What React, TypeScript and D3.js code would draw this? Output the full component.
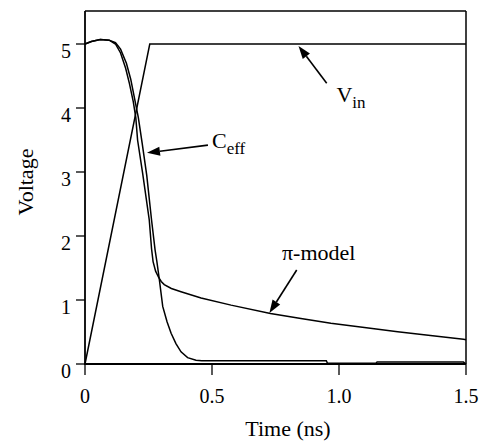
import React from "react";
import * as d3 from "d3";

// Data (time in ns, voltage in V)
const vinT = [0, 0.255, 1.5];
const vinV = [0, 5, 5];

const piT = [0, 0.025, 0.06, 0.095, 0.12, 0.14, 0.16, 0.175, 0.19, 0.2, 0.207, 0.227, 0.253, 0.262, 0.268, 0.278, 0.289, 0.3, 0.312, 0.34, 0.378, 0.457, 0.575, 0.73, 0.85, 0.968, 1.1, 1.231, 1.36, 1.49, 1.5];
const piV = [5.0, 5.04, 5.07, 5.06, 5.0, 4.86, 4.62, 4.38, 4.1, 3.85, 3.5, 2.98, 2.25, 1.8, 1.6, 1.45, 1.36, 1.29, 1.24, 1.18, 1.13, 1.03, 0.92, 0.79, 0.71, 0.635, 0.57, 0.505, 0.445, 0.385, 0.38];

const ceffT = [0, 0.025, 0.06, 0.095, 0.12, 0.14, 0.163, 0.18, 0.195, 0.21, 0.225, 0.243, 0.262, 0.276, 0.283, 0.292, 0.306, 0.323, 0.339, 0.358, 0.378, 0.404, 0.437, 0.46, 0.95, 0.955, 1.145, 1.15, 1.49, 1.5];
const ceffV = [5.0, 5.04, 5.07, 5.06, 5.02, 4.92, 4.7, 4.45, 4.15, 3.85, 3.45, 2.95, 2.25, 1.78, 1.6, 1.34, 0.9, 0.66, 0.48, 0.32, 0.19, 0.1, 0.06, 0.05, 0.05, 0.01, 0.01, 0.03, 0.03, 0.0];

const xTicks = [0, 0.5, 1.0, 1.5];
const xTickLabels = ["0", "0.5", "1.0", "1.5"];
const yTicks = [0, 1, 2, 3, 4, 5];
const yTickLabels = ["0", "1", "2", "3", "4", "5"];

const FONT = "Liberation Serif, DejaVu Serif, serif";

export default function App() {
  const W = 483, H = 443;
  const x = d3.scaleLinear().domain([0, 1.5]).range([85, 466]);
  const y = d3.scaleLinear().domain([0, 5.5]).range([364, 12]);

  const line = d3.line<[number, number]>().x((d) => x(d[0])).y((d) => y(d[1]));
  const vinPath = line(vinT.map((t, i) => [t, vinV[i]]))!;
  const piPath = line(piT.map((t, i) => [t, piV[i]]))!;
  const ceffPath = line(ceffT.map((t, i) => [t, ceffV[i]]))!;

  const arrow = (t0: number, v0: number, t1: number, v1: number, key: string) => {
    const x0 = x(t0), y0 = y(v0), x1 = x(t1), y1 = y(v1);
    const ang = Math.atan2(y1 - y0, x1 - x0);
    const L = 13, Wd = 4.5;
    const bx = x1 - L * Math.cos(ang), by = y1 - L * Math.sin(ang);
    const px = -Math.sin(ang) * Wd, py = Math.cos(ang) * Wd;
    return (
      <g key={key}>
        <line x1={x0} y1={y0} x2={bx} y2={by} stroke="#000" strokeWidth={1.6} />
        <polygon points={`${x1},${y1} ${bx + px},${by + py} ${bx - px},${by - py}`} fill="#000" />
      </g>
    );
  };

  const x0 = x(0), x1 = x(1.5), yb = y(0), yt = y(5.5);
  const ts = { fontFamily: FONT };

  return (
    <svg width={W} height={H} style={{ position: "absolute", left: 0, top: 0, background: "#fff" }}>
      <rect x={0} y={0} width={W} height={H} fill="#fff" />
      {/* frame */}
      <line x1={x0} y1={yt - 1} x2={x1} y2={yt - 1} stroke="#000" strokeWidth={1.5} />
      <line x1={x1} y1={yt - 1} x2={x1} y2={yb} stroke="#000" strokeWidth={1.5} />
      <line x1={x0} y1={yt - 1} x2={x0} y2={yb} stroke="#000" strokeWidth={1.8} />
      <line x1={x0 - 1} y1={yb} x2={x1} y2={yb} stroke="#000" strokeWidth={1.8} />
      {/* y ticks */}
      {yTicks.map((v, i) => (
        <g key={"y" + i}>
          <line x1={x0 - 9} x2={x0} y1={y(v)} y2={y(v)} stroke="#000" strokeWidth={1.3} />
          <text x={71} y={y(v) + 14} textAnchor="end" fontSize={20} style={ts}>{yTickLabels[i]}</text>
        </g>
      ))}
      {/* x ticks */}
      {xTicks.map((t, i) => (
        <g key={"x" + i}>
          <line x1={x(t)} x2={x(t)} y1={yb} y2={yb + 11} stroke="#000" strokeWidth={1.3} />
          <text x={x(t)} y={403} textAnchor="middle" fontSize={20} style={ts}>{xTickLabels[i]}</text>
        </g>
      ))}
      {/* axis titles */}
      <text x={288} y={436} textAnchor="middle" fontSize={22} style={ts}>Time (ns)</text>
      <text transform="translate(33,182) rotate(-90)" textAnchor="middle" fontSize={22} style={ts}>Voltage</text>
      {/* curves */}
      <path d={vinPath} fill="none" stroke="#000" strokeWidth={1.5} />
      <path d={piPath} fill="none" stroke="#000" strokeWidth={1.5} />
      <path d={ceffPath} fill="none" stroke="#000" strokeWidth={1.5} />
      {/* annotations */}
      {arrow(0.9516, 4.386, 0.8406, 4.97, "a1")}
      <text x={x(0.99)} y={y(4.094)} fontSize={22} style={ts}>V<tspan fontSize={17} dy={6}>in</tspan></text>
      {arrow(0.484, 3.42, 0.244, 3.3, "a2")}
      <text x={x(0.5)} y={y(3.375)} fontSize={22} style={ts}>C<tspan fontSize={17} dy={6}>eff</tspan></text>
      {arrow(0.8335, 1.469, 0.726, 0.797, "a3")}
      <text x={x(0.7756)} y={y(1.625)} fontSize={22} style={ts}>π-model</text>
    </svg>
  );
}
